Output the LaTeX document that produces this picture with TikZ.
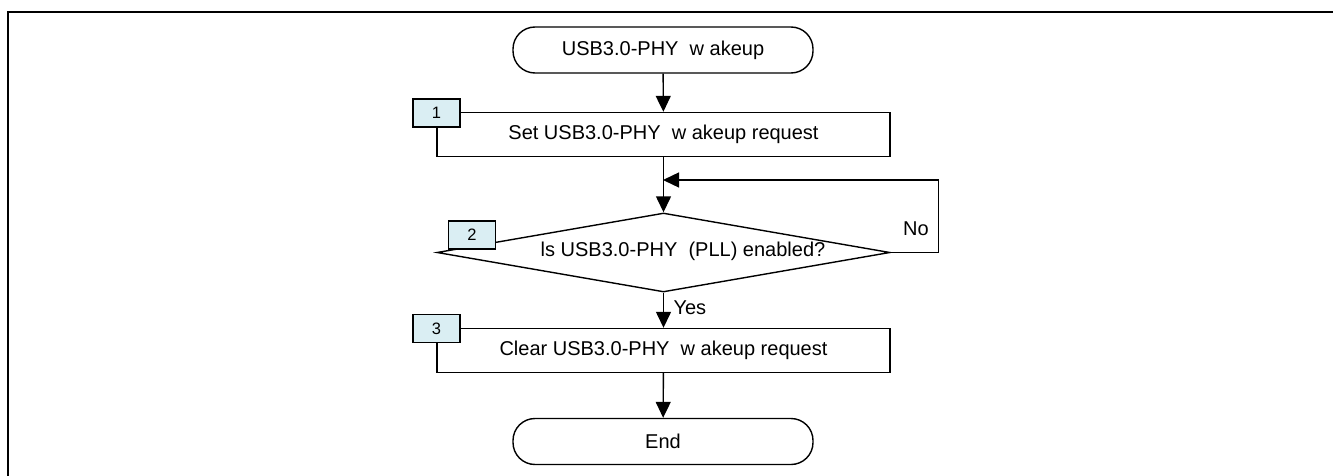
\documentclass[tikz,border=0pt]{standalone}
\usepackage{fontspec}
\setmainfont{Liberation Sans}
\usetikzlibrary{shapes.geometric,arrows.meta}
\definecolor{tagblue}{HTML}{DAEEF3}
\tikzset{
  terminal/.style={draw,line width=1.4pt,rounded corners=22pt,minimum width=300pt,minimum height=46pt,font=\fontsize{20}{23}\selectfont},
  procbox/.style={draw,line width=1.4pt,minimum width=453pt,minimum height=44pt,font=\fontsize{20}{23}\selectfont},
  numtag/.style={draw,line width=1.4pt,fill=tagblue,minimum width=47pt,minimum height=28pt,inner sep=0pt,font=\fontsize{16.5}{18}\selectfont},
  decision/.style={draw,line width=1.4pt,shape=diamond,aspect=5.73,minimum width=453pt,minimum height=79pt,inner sep=0pt},
  lbl/.style={font=\fontsize{20}{23}\selectfont},
  arr/.style={line width=1.4pt,-{Triangle[length=16pt,width=15pt]}}
}
\begin{document}
\begin{tikzpicture}[x=1pt,y=-1pt]
\useasboundingbox (0,0) rectangle (1333,476);
% frame
\draw[line width=2.2pt] (8,476) -- (8,12) -- (1333,12);
% nodes
\node[terminal] (start) at (663,50) {USB3.0-PHY~ w akeup};
\node[procbox] (setreq) at (663.5,134.5) {Set USB3.0-PHY~ w akeup request};
\node[numtag] (tag1) at (436.5,113) {1};
\node[decision] (pll) at (663.5,252.5) {};
\node[lbl] (plltext) at (683,251) {ls USB3.0-PHY~ (PLL) enabled?};
\node[numtag] (tag2) at (472,235) {2};
\node[procbox] (clrreq) at (663.5,350.5) {Clear USB3.0-PHY~ w akeup request};
\node[numtag] (tag3) at (436.5,328.5) {3};
\node[terminal] (stop) at (663,441.5) {End};
\coordinate (loop) at (663,180);
% connectors
\draw[arr] (start) -- (setreq);
\draw[arr] (setreq) -- (pll);
\draw[arr] (pll.east) -- ++(48,0) |- (loop);
\draw[arr] (pll) -- node[pos=0.42,right=6pt,lbl] {Yes} (clrreq);
\draw[arr] (clrreq) -- (stop);
\node[lbl] (nolbl) at (916,229) {No};
\end{tikzpicture}
\end{document}
